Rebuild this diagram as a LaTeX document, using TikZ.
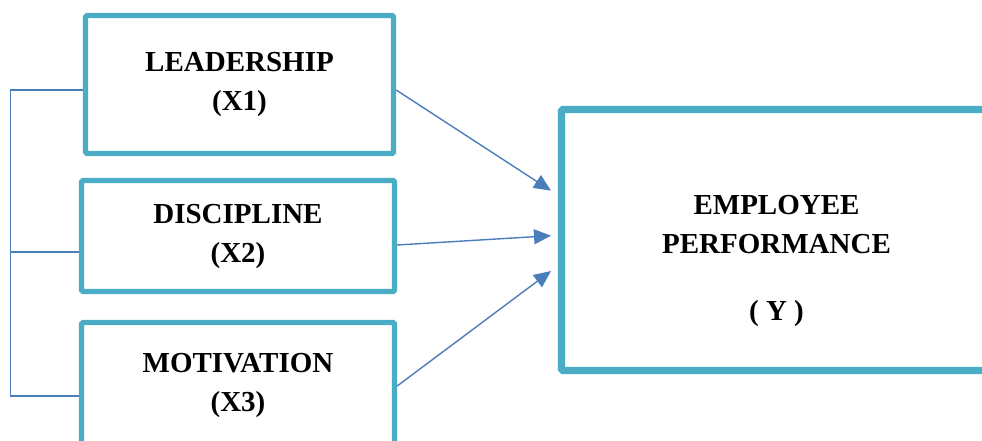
\documentclass[tikz,border=0pt]{standalone}
\usepackage{fontspec}
\setmainfont{Liberation Serif}
\usetikzlibrary{arrows.meta}
\definecolor{khung}{RGB}{75,172,198}
\definecolor{muiten}{RGB}{74,126,187}
\tikzset{
  chu/.style={align=center,font=\bfseries\fontsize{29}{39}\selectfont},
  hop/.style={chu,draw=khung,line width=5.3pt,rounded corners=1.5pt,inner sep=0pt,minimum width=313pt},
  noi/.style={draw=muiten,line width=1.4pt},
  arr/.style={noi,->}
}
\begin{document}
\begin{tikzpicture}[>={Triangle[length=17pt,width=15pt]},x=1pt,y=-1pt]
\useasboundingbox (0,0) rectangle (982,441);
\clip (0,0) rectangle (982,441);
% ba bien doc lap
\node[hop,minimum width=308pt,minimum height=138pt] (lead) at (239.5,84.5) {LEADERSHIP\\(X1)};
\node[hop,minimum height=111pt] (disc) at (238,236) {DISCIPLINE\\(X2)};
\node[hop,minimum height=125pt] (motiv) at (238,385) {MOTIVATION\\(X3)};
% bien phu thuoc
\node[hop,line width=7.3pt,minimum width=430pt,minimum height=261pt] (perf) at (776.5,240) {};
\node[chu] (perfname) at (776.5,261) {EMPLOYEE\\PERFORMANCE\\[28pt]( Y )};
\coordinate (t1) at (551,190.7);
\coordinate (t2) at (551,235.7);
\coordinate (t3) at (551,271);
\draw[arr] ([yshift=-5.5pt]lead.east) -- (t1);
\draw[arr] ([yshift=-9pt]disc.east) -- (t2);
\draw[arr] ([yshift=-1pt]motiv.east) -- (t3);
% ngoac ben trai
\coordinate (b1) at (10.5,90);
\coordinate (b2) at (10.5,252);
\coordinate (b3) at (10.5,396);
\draw[noi] (lead.west |- b1) -- (b1) -- (b3) -- (motiv.west |- b3);
\draw[noi] (b2) -- (disc.west |- b2);
\end{tikzpicture}
\end{document}
